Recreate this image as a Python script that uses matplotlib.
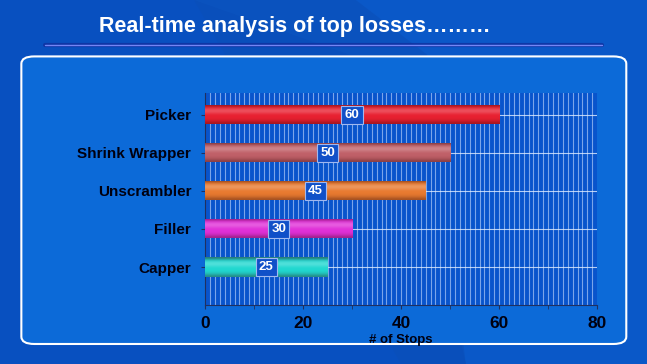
import numpy as np
import matplotlib
matplotlib.use('Agg')
import matplotlib.pyplot as plt
from matplotlib.patches import FancyBboxPatch, Polygon
from matplotlib.colors import LinearSegmentedColormap

plt.rcParams['font.family'] = ['Liberation Sans', 'DejaVu Sans']

categories = ['Capper', 'Filler', 'Unscrambler', 'Shrink Wrapper', 'Picker']
stops = [25, 30, 45, 50, 60]
bar_colors = ['#20d8d0', '#e030d8', '#e87a30', '#c06068', '#e82030']
x_ticks = [0, 20, 40, 60, 80]

fig = plt.figure(figsize=(6.47, 3.64), dpi=100)
fig.patch.set_facecolor('#0a58c8')

# background swoosh
bg = fig.add_axes([0, 0, 1, 1], zorder=-10)
bg.set_xlim(0, 1)
bg.set_ylim(0, 1)
bg.axis('off')
bg.add_patch(Polygon([[0.0, 1.0], [0.30, 1.0], [0.62, 0.80], [0.72, 0.0], [0.0, 0.0]],
                     closed=True, color='#0850c0', lw=0))
bg.add_patch(Polygon([[0.30, 1.0], [0.55, 1.0], [0.66, 0.85], [0.72, 0.0], [0.62, 0.0]],
                     closed=True, color='#0b4fb8', lw=0, alpha=0.6))
# line under title
for lw, col, a in [(3, '#1030a0', 0.8), (1, '#8090ff', 0.9)]:
    bg.plot([0.07, 0.93], [0.876, 0.876], color=col, lw=lw, alpha=a, solid_capstyle='round')
# inner rounded panel
bg.add_patch(FancyBboxPatch((0.033, 0.055), 0.935, 0.79,
                            boxstyle='round,pad=0,rounding_size=0.02',
                            facecolor='#0c6ad8', edgecolor='white', lw=1.5))

fig.text(0.455, 0.928, 'Real-time analysis of top losses………', color='white',
         fontsize=15.5, fontweight='bold', ha='center', va='center')

ax = fig.add_axes([0.317, 0.162, 0.606, 0.583])
ax.set_facecolor('#0854cc')
y = np.arange(len(categories))
ax.set_xlim(0, 80)
ax.set_ylim(-1, len(categories) - 0.42)

# grid
for xv in range(1, 80):
    ax.axvline(xv, color='#c8dcff', lw=0.8, alpha=0.6, zorder=1)
for yv in y:
    ax.axhline(yv, color='#e0ecff', lw=0.8, alpha=0.8, zorder=1)

bars = ax.barh(y, stops, height=0.5, color=bar_colors, zorder=3)

# cylinder shading
shade = np.array([0.28, 0.45, 0.58, 0.62, 0.56, 0.5, 0.5, 0.48, 0.42, 0.32]).reshape(-1, 1)
for b, col, v, yi in zip(bars, bar_colors, stops, y):
    cmap = LinearSegmentedColormap.from_list('c', ['#300808', col, 'white'])
    im = ax.imshow(shade, cmap=cmap, vmin=0, vmax=1, aspect='auto',
                   extent=[0, v, yi - 0.25, yi + 0.25], zorder=4, interpolation='bicubic')
    im.set_clip_path(b)
    ax.text(v / 2, yi, str(v), color='white', fontsize=9.5, fontweight='bold',
            ha='center', va='center', zorder=6,
            bbox=dict(boxstyle='square,pad=0.25', facecolor='#1050c8', edgecolor='#a0b8f0', lw=0.8))

ax.set_xticks(x_ticks)
ax.set_xticks(range(0, 81, 10), minor=True)
ax.set_xticklabels([str(t) for t in x_ticks], fontsize=12.5, fontweight='bold', color='#000010')
ax.tick_params(axis='x', which='both', length=3, color='#203060', pad=5)
ax.set_yticks(y)
ax.set_yticklabels(categories, fontsize=11, fontweight='bold', color='#000010')
ax.tick_params(axis='y', length=3, color='#203060', pad=7)
for s in ['top', 'right']:
    ax.spines[s].set_visible(False)
for s in ['left', 'bottom']:
    ax.spines[s].set_color('#203060')
    ax.spines[s].set_linewidth(0.8)
ax.set_xlabel('# of Stops', fontsize=9.5, fontweight='bold', color='#000010', labelpad=2)

fig.savefig('out.png', dpi=100, facecolor=fig.get_facecolor())
